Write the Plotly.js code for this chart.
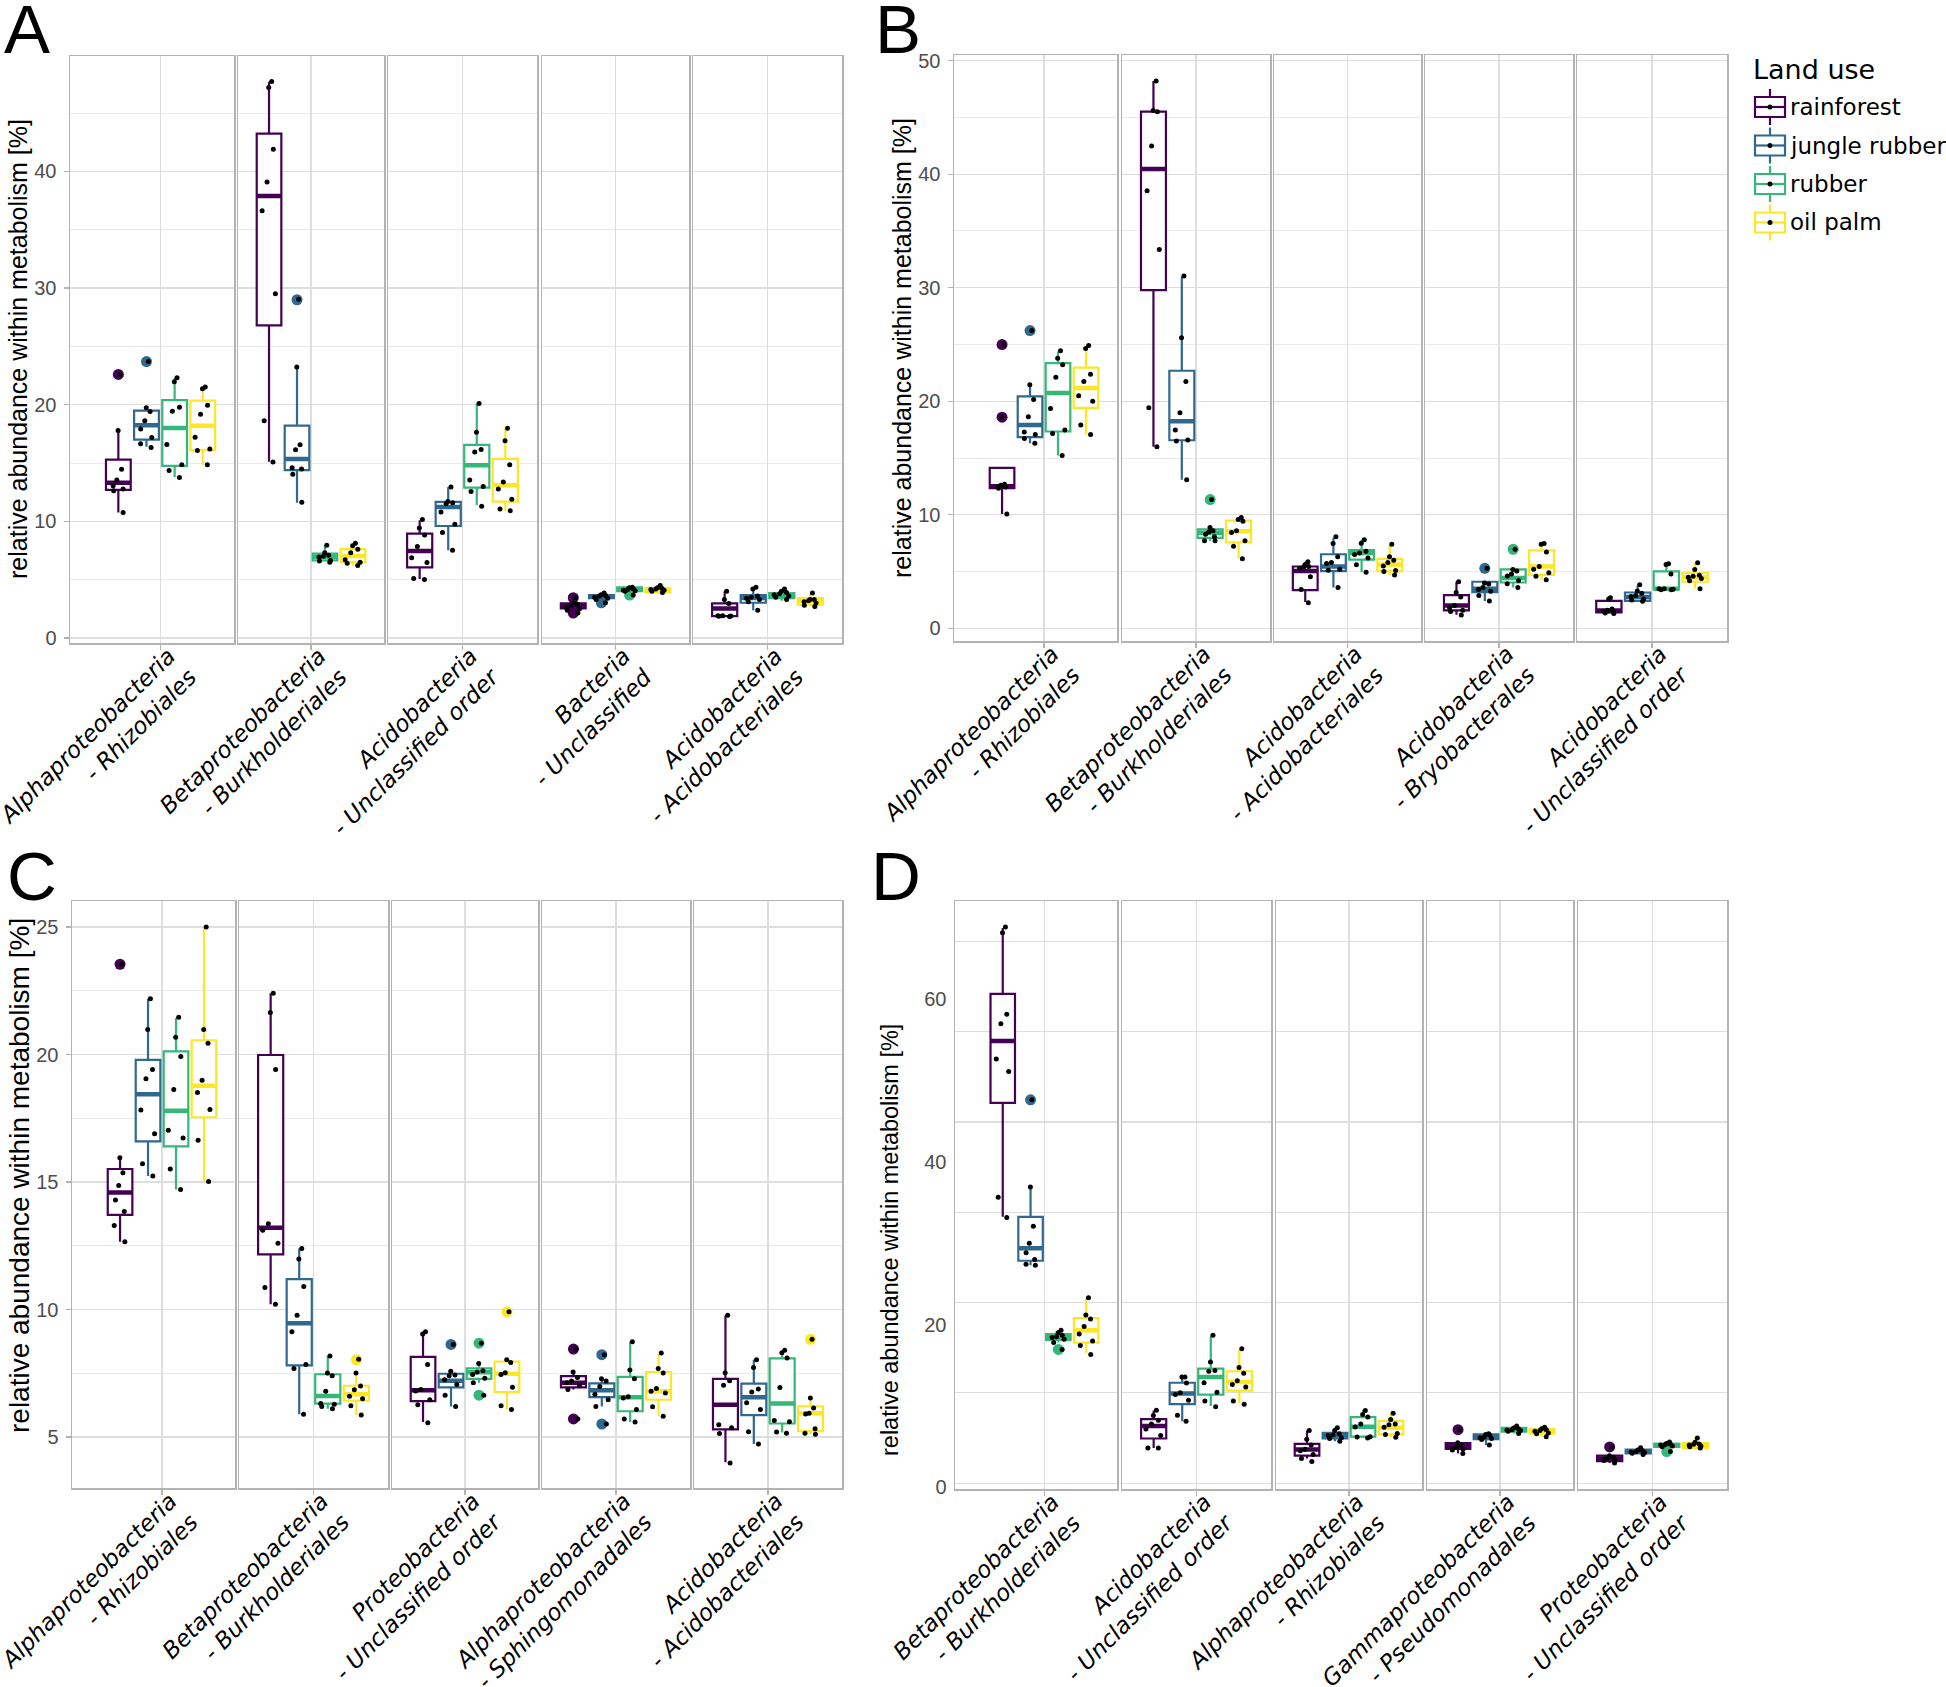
<!DOCTYPE html>
<html>
<head>
<meta charset="utf-8">
<script src="https://cdn.plot.ly/plotly-3.0.1.min.js"></script>
<style>html,body{margin:0;padding:0;background:#fff}</style>
</head>
<body>
<div id="fig" style="width:1946px;height:1687px"></div>
<script>
// land use levels and their colours
var landUse = ['rainforest', 'jungle rubber', 'rubber', 'oil palm'];
var luColors = ['#440154', '#31688e', '#35b779', '#fde725'];

// ---------- panel A ----------
var A_taxa = ['Alphaproteobacteria\n- Rhizobiales', 'Betaproteobacteria\n- Burkholderiales',
  'Acidobacteria\n- Unclassified order', 'Bacteria\n- Unclassified', 'Acidobacteria\n- Acidobacteriales'];
var A_q1  = [[12.7, 17.0, 14.75, 16.1], [26.8, 14.4, 6.65, 6.5], [6.05, 9.6, 12.9, 11.7], [2.53, 3.42, 4.01, 3.91], [1.87, 3.02, 3.42, 2.86]];
var A_med = [[13.3, 18.25, 18.0, 18.2], [37.9, 15.35, 6.97, 7.03], [7.46, 11.24, 14.8, 13.1], [2.76, 3.58, 4.17, 4.11], [2.53, 3.42, 3.68, 3.19]];
var A_q3  = [[15.3, 19.5, 20.4, 20.35], [43.25, 18.2, 7.23, 7.62], [8.94, 11.67, 16.56, 15.35], [2.96, 3.68, 4.34, 4.27], [2.96, 3.68, 3.85, 3.42]];
var A_lo  = [[10.75, 16.4, 13.8, 14.85], [15.1, 11.6, 6.6, 6.2], [5.06, 7.53, 11.4, 10.9], [2.4, 3.3, 4.0, 3.9], [1.85, 2.37, 3.19, 2.69]];
var A_hi  = [[17.8, 19.75, 22.3, 21.5], [47.7, 23.2, 7.95, 8.12], [10.1, 12.95, 20.1, 18.0], [3.0, 3.8, 4.35, 4.5], [4.0, 4.2, 4.2, 3.85]];
var A_out = [[[22.6], [23.7], [], []], [[], [29.0], [], []], [[], [], [], []], [[3.45, 2.14], [3.02], [3.68], []], [[], [], [], []]];
var A_pts = [
  [[22.6, 17.8, 14.46, 13.54, 13.05, 12.78, 12.62, 10.75], [23.7, 19.75, 19.42, 18.63, 17.91, 17.19, 16.66, 16.33],
   [22.31, 21.98, 19.78, 19.45, 16.6, 14.85, 14.36, 13.77], [21.52, 21.36, 19.95, 19.19, 17.22, 16.2, 16.07, 14.85]],
  [[47.72, 47.19, 41.9, 39.1, 36.64, 29.51, 18.63, 15.08], [29.05, 23.23, 16.56, 16.14, 14.59, 14.49, 14.03, 11.63],
   [7.95, 7.3, 7.1, 7.0, 6.95, 6.65, 6.6, 6.5], [8.12, 7.9, 7.6, 7.3, 6.7, 6.5, 6.4, 6.21]],
  [[10.15, 9.43, 8.84, 7.85, 6.87, 6.47, 5.1, 5.02], [12.95, 11.7, 11.6, 11.5, 10.81, 9.76, 9.04, 7.53],
   [20.11, 17.65, 16.17, 15.94, 13.54, 12.98, 12.55, 11.3], [17.98, 16.92, 14.85, 13.37, 12.78, 11.9, 11.07, 10.91]],
  [[3.45, 3.0, 2.9, 2.8, 2.6, 2.5, 2.37, 2.14], [3.85, 3.7, 3.65, 3.6, 3.5, 3.4, 3.3, 3.02],
   [4.35, 4.3, 4.2, 4.15, 4.1, 4.05, 4.0, 3.68], [4.5, 4.3, 4.25, 4.2, 4.15, 4.1, 4.0, 3.9]],
  [[4.01, 3.29, 2.96, 1.9, 1.9, 1.88, 1.87, 1.85], [4.34, 4.2, 3.6, 3.5, 3.4, 3.3, 3.1, 2.37],
   [4.2, 4.0, 3.9, 3.8, 3.7, 3.6, 3.5, 3.3], [3.85, 3.3, 3.3, 3.2, 3.1, 3.0, 2.8, 2.69]]
];

// ---------- panel B ----------
var B_taxa = ['Alphaproteobacteria\n- Rhizobiales', 'Betaproteobacteria\n- Burkholderiales',
  'Acidobacteria\n- Acidobacteriales', 'Acidobacteria\n- Bryobacterales', 'Acidobacteria\n- Unclassified order'];
var B_q1  = [[12.36, 16.84, 17.34, 19.43], [29.8, 16.57, 7.98, 7.58], [3.37, 5.05, 6.06, 5.05], [1.58, 3.2, 4.04, 4.71], [1.41, 2.42, 3.43, 4.11]];
var B_med = [[12.53, 17.91, 20.74, 21.18], [40.47, 18.25, 8.42, 8.55], [5.05, 5.45, 6.63, 5.62], [2.02, 3.5, 4.44, 5.45], [1.58, 2.76, 3.5, 4.51]];
var B_q3  = [[14.14, 20.44, 23.37, 22.96], [45.52, 22.69, 8.72, 9.49], [5.45, 6.53, 6.9, 6.13], [2.93, 4.11, 5.19, 6.87], [2.42, 3.16, 5.02, 4.88]];
var B_lo  = [[10.07, 16.3, 15.22, 17.07], [15.99, 13.1, 7.71, 6.2], [2.32, 3.6, 4.95, 4.71], [1.2, 2.42, 3.6, 4.28], [1.3, 2.4, 3.4, 3.5]];
var B_hi  = [[14.14, 21.45, 24.38, 24.81], [48.22, 30.98, 8.89, 9.76], [5.86, 7.98, 7.81, 7.41], [4.11, 4.11, 5.19, 7.47], [2.69, 3.77, 5.62, 5.79]];
var B_out = [[[25.0, 18.6], [26.23], [], []], [[], [], [11.35], []], [[], [], [], []], [[], [5.29], [6.97], []], [[], [], [], []]];
var B_pts = [
  [[25.0, 18.6, 12.7, 12.6, 12.5, 12.45, 12.35, 10.07], [26.23, 21.45, 20.17, 18.65, 17.3, 17.07, 16.73, 16.3],
   [24.45, 23.8, 23.23, 22.12, 19.36, 17.47, 17.17, 15.22], [24.92, 24.65, 22.39, 21.75, 20.5, 20.0, 17.91, 17.07]],
  [[48.22, 45.62, 45.5, 42.49, 38.55, 33.37, 19.43, 15.99], [31.04, 25.59, 21.75, 18.99, 17.47, 16.6, 16.5, 13.1],
   [11.35, 8.89, 8.6, 8.5, 8.3, 8.08, 7.71, 7.71], [9.76, 9.6, 9.43, 8.59, 8.45, 7.71, 7.24, 6.13]],
  [[5.86, 5.6, 5.45, 5.4, 5.3, 4.55, 3.43, 2.26], [8.08, 7.47, 6.3, 5.8, 5.72, 5.2, 5.12, 3.6],
   [7.81, 7.5, 6.8, 6.63, 6.5, 6.2, 5.6, 4.95], [7.41, 6.3, 6.0, 5.8, 5.5, 5.1, 5.0, 4.71]],
  [[4.11, 3.16, 2.76, 2.02, 1.82, 1.6, 1.48, 1.18], [5.29, 4.0, 3.9, 3.6, 3.43, 3.27, 2.9, 2.42],
   [6.97, 5.19, 5.05, 4.78, 4.61, 4.21, 3.94, 3.6], [7.47, 7.4, 6.73, 5.45, 5.2, 4.9, 4.6, 4.28]],
  [[2.69, 2.6, 1.7, 1.6, 1.5, 1.45, 1.35, 1.31], [3.84, 3.3, 3.1, 2.9, 2.8, 2.6, 2.5, 2.4],
   [5.62, 5.69, 4.78, 3.5, 3.5, 3.45, 3.4, 3.4], [5.79, 5.19, 4.68, 4.6, 4.5, 4.4, 4.2, 3.5]]
];

// ---------- panel C ----------
var C_taxa = ['Alphaproteobacteria\n- Rhizobiales', 'Betaproteobacteria\n- Burkholderiales',
  'Proteobacteria\n- Unclassified order', 'Alphaproteobacteria\n- Sphingomonadales', 'Acidobacteria\n- Acidobacteriales'];
var C_q1  = [[13.71, 16.59, 16.4, 17.54], [12.16, 7.81, 6.31, 6.43], [6.41, 6.95, 7.28, 6.76], [6.95, 6.56, 6.01, 6.46], [5.3, 5.86, 5.53, 5.23]];
var C_med = [[14.59, 18.44, 17.79, 18.77], [13.21, 9.46, 6.61, 6.68], [6.83, 7.21, 7.54, 7.48], [7.13, 6.83, 6.56, 6.79], [6.26, 6.56, 6.31, 5.93]];
var C_q3  = [[15.51, 19.79, 20.12, 20.56], [19.98, 11.19, 7.46, 7.01], [8.14, 7.48, 7.69, 7.96], [7.39, 7.1, 7.36, 7.55], [7.28, 7.09, 8.08, 6.2]];
var C_lo  = [[12.66, 15.24, 14.71, 15.02], [10.21, 5.89, 6.11, 5.86], [5.59, 6.2, 7.13, 6.08], [6.86, 6.2, 5.59, 5.83], [4.01, 4.73, 5.18, 5.11]];
var C_hi  = [[15.92, 22.19, 21.43, 25.0], [22.4, 12.39, 8.18, 7.48], [9.08, 7.58, 7.88, 8.03], [7.51, 7.28, 8.74, 8.26], [9.76, 8.03, 8.36, 6.53]];
var C_out = [[[23.54], [], [], []], [[], [], [], [8.03]], [[], [8.63], [8.68, 6.64], [9.91]], [[8.45, 5.71], [8.23, 5.51], [], []], [[], [], [], [8.83]]];
var C_pts = [
  [[23.54, 15.95, 15.36, 14.86, 14.29, 13.84, 13.29, 12.66], [22.19, 20.98, 19.41, 19.05, 17.82, 16.89, 15.72, 15.24],
   [21.46, 20.68, 19.92, 18.63, 17.03, 16.73, 15.51, 14.71], [25.0, 20.98, 20.44, 18.99, 18.51, 17.84, 16.64, 15.02]],
  [[22.4, 21.65, 19.41, 13.36, 13.11, 12.6, 10.86, 10.21], [12.39, 11.98, 10.9, 9.77, 9.13, 7.84, 7.69, 5.89],
   [8.18, 7.51, 7.4, 6.79, 6.31, 6.28, 6.2, 6.11], [8.05, 7.51, 7.0, 6.85, 6.6, 6.5, 6.23, 5.86]],
  [[9.13, 9.04, 7.84, 6.86, 6.8, 6.46, 6.26, 5.56], [8.63, 7.58, 7.43, 7.4, 7.25, 7.06, 6.64, 6.2],
   [8.68, 7.88, 7.6, 7.55, 7.45, 7.3, 7.13, 6.64], [9.91, 8.03, 7.92, 7.52, 7.45, 6.95, 6.23, 6.08]],
  [[8.45, 7.55, 7.33, 7.2, 7.13, 7.01, 6.86, 5.71], [8.23, 7.28, 7.2, 6.98, 6.68, 6.46, 6.2, 5.51],
   [8.74, 7.63, 7.28, 6.58, 6.53, 6.08, 5.71, 5.59], [8.29, 7.69, 7.51, 6.9, 6.79, 6.73, 6.19, 5.81]],
  [[9.77, 7.52, 7.21, 7.03, 5.48, 5.36, 5.14, 3.98], [8.03, 7.73, 6.88, 6.76, 6.34, 6.08, 5.21, 4.73],
   [8.4, 8.3, 8.1, 6.94, 5.65, 5.6, 5.2, 5.15], [8.83, 6.53, 6.14, 5.93, 5.9, 5.32, 5.15, 5.11]]
];

// ---------- panel D ----------
var D_taxa = ['Betaproteobacteria\n- Burkholderiales', 'Acidobacteria\n- Unclassified order',
  'Alphaproteobacteria\n- Rhizobiales', 'Gammaproteobacteria\n- Pseudomonadales', 'Proteobacteria\n- Unclassified order'];
var D_q1  = [[47.23, 27.84, 18.12, 17.79], [6.01, 10.23, 11.41, 11.88], [3.9, 6.01, 6.24, 6.53], [4.74, 5.92, 6.85, 6.62], [3.24, 4.18, 4.98, 4.84]];
var D_med = [[54.84, 29.39, 18.5, 19.3], [7.56, 11.55, 13.57, 12.96], [4.65, 6.38, 7.46, 7.32], [5.07, 6.24, 7.09, 6.85], [3.57, 4.41, 5.21, 5.21]];
var D_q3  = [[60.61, 33.24, 18.83, 20.8], [8.4, 12.86, 14.6, 14.27], [5.35, 6.71, 8.64, 8.17], [5.45, 6.53, 7.32, 7.18], [3.9, 4.65, 5.35, 5.45]];
var D_lo  = [[33.24, 27.28, 17.8, 16.48], [4.84, 8.12, 10.0, 10.38], [3.57, 5.68, 6.06, 6.15], [4.18, 5.21, 6.62, 6.24], [3.0, 4.04, 4.98, 4.84]];
var D_hi  = [[68.69, 36.81, 19.3, 23.29], [9.44, 13.57, 18.59, 16.95], [7.0, 7.32, 9.53, 9.2], [5.45, 6.6, 7.56, 7.4], [3.9, 4.88, 5.59, 6.06]];
var D_out = [[[], [47.6], [16.95], []], [[], [], [], []], [[], [], [], []], [[7.09], [], [], []], [[4.98], [], [4.41], []]];
var D_pts = [
  [[68.83, 68.12, 58.12, 56.95, 52.63, 51.08, 35.63, 33.15], [47.6, 36.9, 32.07, 30.0, 28.83, 27.98, 27.42, 27.28],
   [19.3, 19.0, 18.7, 18.5, 18.4, 18.2, 17.8, 16.95], [23.29, 21.17, 20.7, 19.77, 18.83, 17.98, 17.42, 16.34]],
  [[9.49, 8.83, 8.26, 7.79, 7.18, 6.38, 4.84, 4.84], [13.57, 13.57, 12.82, 11.64, 11.41, 10.7, 8.87, 8.12],
   [18.69, 15.4, 14.37, 14.27, 12.86, 11.69, 10.61, 9.91], [17.04, 14.74, 14.04, 13.1, 12.63, 12.35, 10.61, 10.23]],
  [[7.0, 5.92, 5.21, 4.7, 4.5, 4.04, 3.57, 3.19], [7.32, 7.0, 6.6, 6.45, 6.38, 6.1, 6.0, 5.68],
   [9.44, 8.97, 8.64, 7.79, 7.42, 6.24, 6.2, 6.06], [9.11, 8.36, 7.79, 7.7, 7.4, 6.62, 6.5, 6.15]],
  [[7.09, 5.5, 5.2, 4.9, 4.8, 4.7, 4.6, 4.18], [6.6, 6.5, 6.4, 6.2, 6.1, 6.0, 5.9, 5.21],
   [7.56, 7.3, 7.2, 7.1, 7.05, 7.0, 6.9, 6.62], [7.4, 7.2, 7.1, 7.0, 6.9, 6.7, 6.6, 6.24]],
  [[4.98, 3.9, 3.7, 3.6, 3.5, 3.4, 3.3, 3.0], [4.88, 4.6, 4.5, 4.4, 4.35, 4.3, 4.2, 4.04],
   [5.59, 5.4, 5.3, 5.25, 5.2, 5.1, 5.0, 4.41], [6.06, 5.54, 5.35, 5.3, 5.2, 5.1, 5.0, 4.84]]
];

// ---------- layout helpers ----------
var W = 1946, H = 1687;
function px(x) { return x / W; }
function py(y) { return 1 - y / H; }

var panels = [
  {letter: 'A', taxa: A_taxa, q1: A_q1, med: A_med, q3: A_q3, lo: A_lo, hi: A_hi, out: A_out, pts: A_pts,
   cols: [[70, 234], [238, 384], [388, 537], [542, 689], [693, 842]], top: 56, bottom: 643,
   yrange: [-0.43, 49.9], dtick: 10, minor: 5, titleX: 18, titleY: 349, titleSize: 25, letterX: 2, letterY: -11},
  {letter: 'B', taxa: B_taxa, q1: B_q1, med: B_med, q3: B_q3, lo: B_lo, hi: B_hi, out: B_out, pts: B_pts,
   cols: [[954, 1117], [1122, 1270], [1274, 1421], [1425, 1573], [1577, 1727]], top: 55, bottom: 641,
   yrange: [-1.11, 50.5], dtick: 10, minor: 5, titleX: 902, titleY: 348, titleSize: 25, letterX: 873, letterY: -11},
  {letter: 'C', taxa: C_taxa, q1: C_q1, med: C_med, q3: C_q3, lo: C_lo, hi: C_hi, out: C_out, pts: C_pts,
   cols: [[72, 235], [239, 388], [392, 538], [542, 690], [694, 842]], top: 901, bottom: 1488,
   yrange: [3.0, 26.02], dtick: 5, minor: 2.5, titleX: 19, titleY: 1176, titleSize: 28, letterX: 5, letterY: 836},
  {letter: 'D', taxa: D_taxa, q1: D_q1, med: D_med, q3: D_q3, lo: D_lo, hi: D_hi, out: D_out, pts: D_pts,
   cols: [[955, 1117], [1122, 1271], [1276, 1422], [1427, 1573], [1578, 1727]], top: 901, bottom: 1489,
   yrange: [-0.19, 72.02], dtick: 20, minor: null, titleX: 890, titleY: 1240, titleSize: 23.5, letterX: 869, letterY: 836}
];
// panel D: its tick labels sit off the grid lines in the original
var D_gridAt = [0.52, 11.64, 22.72, 33.8, 44.88, 55.96, 67.04];

var BORDER = '#b3b3b3', GRID = '#dedede', GRID_MINOR = '#ebebeb';
var CLEAR = 'rgba(0,0,0,0)';

var layout = {
  width: W, height: H,
  margin: {l: 0, r: 0, t: 0, b: 0},
  paper_bgcolor: '#fff', plot_bgcolor: '#fff',
  boxmode: 'group', boxgap: 0.08, boxgroupgap: 0.12,
  showlegend: false,
  annotations: [],
  shapes: []
};
var boxes = [], medians = [], outliers = [], points = [];

panels.forEach(function (p, pi) {
  p.cols.forEach(function (c, fi) {
    var n = pi * 5 + fi + 1;
    var sfx = n === 1 ? '' : String(n);
    var cat = p.taxa[fi].replace('\n', '<br>');

    layout['xaxis' + sfx] = {
      domain: [px(c[0]), px(c[1])], anchor: 'y' + sfx,
      type: 'category', categoryarray: [cat],
      range: fi === 0 ? [-0.74, 0.6] : [-0.6, 0.6],
      showline: true, mirror: true, linecolor: BORDER, linewidth: 1.5,
      showgrid: true, gridcolor: GRID, gridwidth: 1.2,
      ticks: 'outside', ticklen: 5, tickcolor: BORDER, tickwidth: 1.2,
      tickangle: -45, ticklabelstandoff: -16, ticklabelshift: 8,
      tickfont: {family: 'DejaVu Sans', size: 23, color: '#000', style: 'italic'},
      fixedrange: true
    };
    var ya = {
      domain: [py(p.bottom), py(p.top)], anchor: 'x' + sfx,
      range: p.yrange, zeroline: false,
      showline: true, mirror: true, linecolor: BORDER, linewidth: 1.5,
      showgrid: true, gridcolor: GRID, gridwidth: 1.2,
      dtick: p.dtick, tick0: 0,
      showticklabels: fi === 0,
      ticks: fi === 0 ? 'outside' : '', ticklen: 5, tickcolor: BORDER, tickwidth: 1.2,
      ticklabelstandoff: 3,
      tickfont: {family: 'Liberation Sans', size: 20, color: '#4d4d4d'},
      fixedrange: true
    };
    if (p.minor) {
      ya.minor = {dtick: p.minor, showgrid: true, gridcolor: GRID_MINOR, gridwidth: 1};
    } else {
      ya.showgrid = false;
      ya.ticks = '';
      ya.minor = {tickmode: 'array', tickvals: D_gridAt, showgrid: true, gridcolor: GRID, gridwidth: 1.1};
    }
    layout['yaxis' + sfx] = ya;

    for (var g = 0; g < 4; g++) {
      var common = {type: 'box', xaxis: 'x' + sfx, yaxis: 'y' + sfx, offsetgroup: String(g),
        name: landUse[g], showlegend: false, hoverinfo: 'skip'};
      boxes.push(Object.assign({}, common, {
        x: [cat], q1: [p.q1[fi][g]], median: [p.med[fi][g]], q3: [p.q3[fi][g]],
        lowerfence: [p.lo[fi][g]], upperfence: [p.hi[fi][g]],
        boxpoints: false, whiskerwidth: 0,
        line: {color: luColors[g], width: 2.2}, fillcolor: '#fff'
      }));
      // thicker median bar
      medians.push(Object.assign({}, common, {
        x: [cat], q1: [p.med[fi][g]], median: [p.med[fi][g]], q3: [p.med[fi][g]],
        lowerfence: [p.med[fi][g]], upperfence: [p.med[fi][g]],
        boxpoints: false, whiskerwidth: 0,
        line: {color: luColors[g], width: 4.5}, fillcolor: CLEAR
      }));
      if (p.out[fi][g].length) {
        outliers.push(Object.assign({}, common, {
          x: p.out[fi][g].map(function () { return cat; }), y: p.out[fi][g],
          boxpoints: 'all', jitter: 0, pointpos: 0,
          marker: {color: luColors[g], size: 11, line: {width: 0}},
          line: {color: CLEAR, width: 0}, fillcolor: CLEAR
        }));
      }
      points.push(Object.assign({}, common, {
        x: p.pts[fi][g].map(function () { return cat; }), y: p.pts[fi][g],
        boxpoints: 'all', jitter: 0.75, pointpos: 0,
        marker: {color: '#000', size: 5, line: {width: 0}},
        line: {color: CLEAR, width: 0}, fillcolor: CLEAR
      }));
    }
  });

  // y-axis title
  layout.annotations.push({
    text: 'relative abundance within metabolism [%]', textangle: -90,
    xref: 'paper', yref: 'paper', x: px(p.titleX), y: py(p.titleY),
    xanchor: 'center', yanchor: 'middle', showarrow: false,
    font: {family: 'Liberation Sans', size: p.titleSize, color: '#000'}
  });
  // panel letter
  layout.annotations.push({
    text: p.letter, xref: 'paper', yref: 'paper',
    x: px(p.letterX), y: py(p.letterY), xanchor: 'left', yanchor: 'top', showarrow: false,
    font: {family: 'Liberation Sans', size: 69, color: '#000'}
  });
});

// legend with ggplot-style boxplot keys
layout.annotations.push({
  text: 'Land use', xref: 'paper', yref: 'paper', x: px(1751), y: py(70),
  xanchor: 'left', yanchor: 'middle', showarrow: false,
  font: {family: 'DejaVu Sans', size: 27, color: '#000'}
});
landUse.forEach(function (name, g) {
  var cy = 107 + g * 38.5;
  var x0 = 1755, x1 = 1785, xm = 1770;
  var ln = {color: luColors[g], width: 2.2};
  var sh = layout.shapes;
  sh.push({type: 'line', xref: 'paper', yref: 'paper', x0: px(xm), x1: px(xm), y0: py(cy - 18), y1: py(cy - 10), line: ln});
  sh.push({type: 'line', xref: 'paper', yref: 'paper', x0: px(xm), x1: px(xm), y0: py(cy + 10), y1: py(cy + 18), line: ln});
  sh.push({type: 'rect', xref: 'paper', yref: 'paper', x0: px(x0), x1: px(x1), y0: py(cy + 10), y1: py(cy - 10),
    line: ln, fillcolor: '#fff'});
  sh.push({type: 'line', xref: 'paper', yref: 'paper', x0: px(x0), x1: px(x1), y0: py(cy), y1: py(cy), line: ln});
  sh.push({type: 'circle', xref: 'paper', yref: 'paper', x0: px(xm - 2.5), x1: px(xm + 2.5), y0: py(cy + 2.5), y1: py(cy - 2.5),
    line: {width: 0}, fillcolor: '#000'});
  layout.annotations.push({
    text: name, xref: 'paper', yref: 'paper', x: px(1788), y: py(cy),
    xanchor: 'left', yanchor: 'middle', showarrow: false,
    font: {family: 'DejaVu Sans', size: 23, color: '#000'}
  });
});

var data = boxes.concat(medians, outliers, points);
Plotly.newPlot('fig', data, layout, {staticPlot: true});
</script>
</body>
</html>
